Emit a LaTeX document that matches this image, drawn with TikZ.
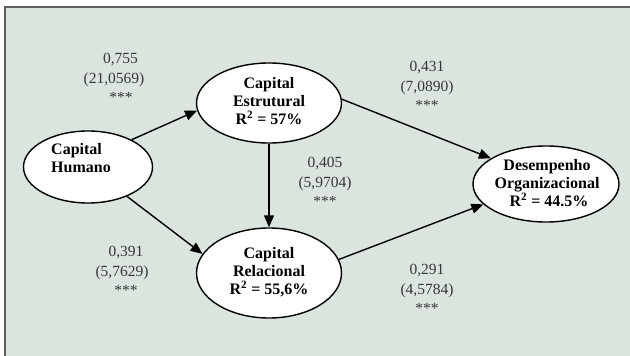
\documentclass[tikz,border=0pt]{standalone}
\usepackage{fontspec}
\setmainfont{Liberation Serif}
\usetikzlibrary{shapes.geometric,arrows.meta}
\definecolor{bgc}{RGB}{220,229,221}
\definecolor{framec}{RGB}{95,95,95}
\definecolor{lblc}{RGB}{55,55,55}
\begin{document}
\begin{tikzpicture}[x=1pt,y=-1pt,
  construct/.style={draw=black, fill=white, ellipse, line width=1.4pt, inner sep=0pt},
  ctext/.style={font=\fontsize{16}{18}\selectfont\bfseries, align=center, inner sep=0pt},
  coef/.style={font=\fontsize{15.5}{19.5}\selectfont, text=lblc, align=center, inner sep=0pt},
  path/.style={line width=1.4pt, -{Triangle[length=12pt,width=10pt]}}]
\useasboundingbox (0,0) rectangle (630,356);
\fill[bgc] (5,7) rectangle (630,356);
\draw[framec, line width=2pt] (5,356) -- (5,7) -- (630,7);

% constructs
\node[construct, minimum width=129pt, minimum height=72pt] (hum) at (88,167) {};
\node[construct, minimum width=145pt, minimum height=80pt] (est) at (269,103) {};
\node[construct, minimum width=145pt, minimum height=90pt] (rel) at (269,273) {};
\node[construct, minimum width=146pt, minimum height=76pt] (des) at (546,184) {};

\node[ctext, align=left, anchor=west] (humt) at (51,158) {Capital\\Humano};
\node[ctext] (estt) at (269,101) {Capital\\Estrutural\\R\textsuperscript{2} = 57\%};
\node[ctext] (relt) at (269,272) {Capital\\Relacional\\R\textsuperscript{2} = 55,6\%};
\node[ctext] (dest) at (547,183) {Desempenho\\Organizacional\\\hspace*{4pt}R\textsuperscript{2} = 44.5\%};

% paths
\draw[path] (hum.32) -- (est.186);
\draw[path] (hum.-37) -- (rel.164);
\draw[path] (est.south) -- (rel.north);
\draw[path] (est.3) -- (des.155);
\draw[path] (rel.11) -- (des.198);

% coefficients
\node[coef] (c1) at (114,78) {\hspace*{13pt}0,755\\(21,0569)\\\hspace*{14pt}***};
\node[coef] (c2) at (427,86) {0,431\\(7,0890)\\***};
\node[coef] (c3) at (325,182) {0,405\\(5,9704)\\***};
\node[coef] (c4) at (122,271) {\hspace*{8pt}0,391\\(5,7629)\\\hspace*{8pt}***};
\node[coef] (c5) at (427,289) {0,291\\(4,5784)\\***};
\end{tikzpicture}
\end{document}
